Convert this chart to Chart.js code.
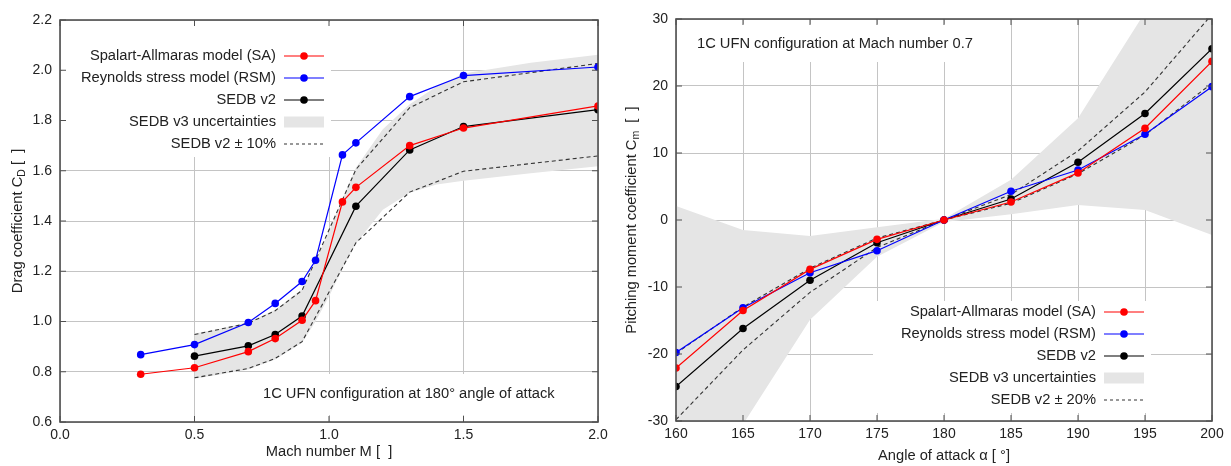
<!DOCTYPE html>
<html>
<head>
<meta charset="utf-8">
<script src="https://cdn.jsdelivr.net/npm/chart.js@4.4.1/dist/chart.umd.min.js"></script>
<style>
  html, body { margin: 0; padding: 0; background: #fff; }
  #wrap { display: flex; width: 1231px; height: 466px; }
  .cell { position: relative; height: 466px; }
</style>
</head>
<body>
<div id="wrap">
  <div class="cell" style="width:615px"><canvas id="cd-chart"></canvas></div>
  <div class="cell" style="width:616px"><canvas id="cm-chart"></canvas></div>
</div>
<script>
// ---- drag coefficient vs Mach (left) ----
const machModels = [0.3, 0.5, 0.7, 0.8, 0.9, 0.95, 1.05, 1.1, 1.3, 1.5, 2.0];
const cdSA   = [0.790, 0.816, 0.880, 0.932, 1.005, 1.083, 1.476, 1.534, 1.700, 1.770, 1.858];
const cdRSM  = [0.868, 0.908, 0.996, 1.072, 1.159, 1.244, 1.663, 1.711, 1.895, 1.979, 2.013];
const machV2 = [0.5, 0.7, 0.8, 0.9, 1.1, 1.3, 1.5, 2.0];
const cdV2      = [0.862, 0.903, 0.948, 1.022, 1.459, 1.683, 1.776, 1.843];
const cdV2Plus  = [0.948, 0.993, 1.043, 1.124, 1.605, 1.851, 1.954, 2.027];
const cdV2Minus = [0.776, 0.813, 0.853, 0.920, 1.313, 1.515, 1.598, 1.659];
const machV3  = [0.5, 0.6, 0.7, 0.8, 0.9, 0.95, 1.0, 1.05, 1.1, 1.2, 1.3, 1.4, 1.5, 1.75, 2.0];
const cdV3Hi  = [0.952, 0.972, 0.997, 1.047, 1.128, 1.24, 1.36, 1.49, 1.612, 1.765, 1.865, 1.935, 1.987, 2.03, 2.062];
const cdV3Lo  = [0.772, 0.790, 0.809, 0.849, 0.915, 1.00, 1.10, 1.21, 1.310, 1.445, 1.512, 1.545, 1.560, 1.59, 1.618];
const legendCD = ['Spalart-Allmaras model (SA)', 'Reynolds stress model (RSM)', 'SEDB v2', 'SEDB v3 uncertainties', 'SEDB v2 \u00b1 10%'];
const noteCD = '1C UFN configuration at 180\u00b0 angle of attack';

// ---- pitching moment vs angle of attack (right) ----
const alpha = [160, 165, 170, 175, 180, 185, 190, 195, 200];
const cmSA      = [-22.1, -13.5, -7.37, -2.89, 0, 2.69, 7.03, 13.7, 23.67];
const cmRSM     = [-19.78, -13.1, -7.87, -4.58, 0, 4.29, 7.47, 12.8, 19.9];
const cmV2      = [-24.86, -16.2, -9.0, -3.39, 0, 3.14, 8.62, 15.9, 25.56];
const cmV2Minus = [-19.9, -13.0, -7.2, -2.7, 0, 2.5, 6.9, 12.7, 20.4];
const cmV2Plus  = [-29.8, -19.4, -10.8, -4.1, 0, 3.8, 10.3, 19.1, 30.7];
const cmV3Hi    = [2.1, -1.5, -2.4, -1.1, 0.2, 6.0, 15.2, 31, 45];
const cmV3Lo    = [-45, -30.5, -14.9, -5.5, -0.3, 0.85, 2.24, 1.5, -2.24];
const legendCM = ['Spalart-Allmaras model (SA)', 'Reynolds stress model (RSM)', 'SEDB v2', 'SEDB v3 uncertainties', 'SEDB v2 \u00b1 20%'];
const noteCM = '1C UFN configuration at Mach number 0.7';

const FONT = '"Liberation Sans", Arial, sans-serif';
const TXT = '#222';
const BAND = '#e5e5e5';
const FRAME = '#505050';
const LBL = '14.7px ' + FONT;

const pts = (xs, ys) => xs.map((x, i) => ({ x, y: ys[i] }));

function modelSet(data, color) {
  return {
    data, borderColor: color, backgroundColor: color, borderWidth: 1.2,
    pointRadius: 3.8, pointBorderWidth: 0, pointBackgroundColor: color, tension: 0
  };
}
function dashedSet(data) {
  return { data, borderColor: '#333', borderWidth: 1.1, borderDash: [4, 3], pointRadius: 0, tension: 0 };
}
function bandSets(lo, hi) {
  return [
    { data: lo, borderWidth: 0, pointRadius: 0, fill: false },
    { data: hi, borderWidth: 0, pointRadius: 0, fill: '-1', backgroundColor: BAND }
  ];
}

// legend + annotation drawn inside the plot, with a white box behind
function overlay(cfg) {
  return {
    id: 'overlay',
    afterDatasetsDraw(chart) {
      const ctx = chart.ctx;
      ctx.save();
      ctx.fillStyle = '#fff';
      const b = cfg.legendBox, n = cfg.noteBox;
      ctx.fillRect(b[0], b[1], b[2] - b[0], b[3] - b[1]);
      ctx.fillRect(n[0], n[1], n[2] - n[0], n[3] - n[1]);

      ctx.font = LBL;
      ctx.fillStyle = TXT;
      ctx.textBaseline = 'middle';
      ctx.textAlign = 'left';
      ctx.fillText(cfg.note, cfg.noteX, cfg.noteY);

      const colors = ['#ff0000', '#0000ff', '#000000'];
      cfg.labels.forEach((lab, i) => {
        const y = cfg.y0 + i * cfg.step;
        ctx.textAlign = 'right';
        ctx.fillStyle = TXT;
        ctx.fillText(lab, cfg.textRight, y);
        const x1 = cfg.textRight + 8, x2 = x1 + 40;
        if (i < 3) {
          ctx.strokeStyle = colors[i]; ctx.lineWidth = 1.2; ctx.setLineDash([]);
          ctx.beginPath(); ctx.moveTo(x1, y); ctx.lineTo(x2, y); ctx.stroke();
          ctx.fillStyle = colors[i];
          ctx.beginPath(); ctx.arc((x1 + x2) / 2, y, 3.8, 0, Math.PI * 2); ctx.fill();
        } else if (i === 3) {
          ctx.fillStyle = BAND; ctx.fillRect(x1, y - 5.5, 40, 11);
        } else {
          ctx.strokeStyle = '#333'; ctx.lineWidth = 1.1; ctx.setLineDash([3, 3]);
          ctx.beginPath(); ctx.moveTo(x1, y); ctx.lineTo(x2, y); ctx.stroke();
          ctx.setLineDash([]);
        }
      });
      ctx.restore();
    },
    afterDraw(chart) {
      const ctx = chart.ctx, a = chart.chartArea;
      const sx = chart.scales.x, sy = chart.scales.y;
      ctx.save();
      ctx.strokeStyle = FRAME; ctx.lineWidth = 1.6;
      ctx.strokeRect(a.left, a.top, a.right - a.left, a.bottom - a.top);
      ctx.lineWidth = 1;
      ctx.beginPath();
      sx.ticks.forEach(t => {
        const x = sx.getPixelForValue(t.value);
        ctx.moveTo(x, a.bottom); ctx.lineTo(x, a.bottom - 6);
        ctx.moveTo(x, a.top); ctx.lineTo(x, a.top + 6);
      });
      sy.ticks.forEach(t => {
        const y = sy.getPixelForValue(t.value);
        ctx.moveTo(a.left, y); ctx.lineTo(a.left + 6, y);
        ctx.moveTo(a.right, y); ctx.lineTo(a.right - 6, y);
      });
      ctx.stroke();

      // axis titles
      ctx.fillStyle = TXT;
      ctx.textBaseline = 'middle';
      ctx.textAlign = 'center';
      ctx.font = LBL;
      ctx.fillText(cfg.xTitle, (a.left + a.right) / 2, cfg.xTitleY);

      ctx.translate(cfg.yTitleX, (a.top + a.bottom) / 2);
      ctx.rotate(-Math.PI / 2);
      const main = cfg.yTitle[0], sub = cfg.yTitle[1], tail = cfg.yTitle[2];
      const w1 = ctx.measureText(main).width, w3 = ctx.measureText(tail).width;
      ctx.font = '10.5px ' + FONT;
      const w2 = ctx.measureText(sub).width;
      let x = -(w1 + w2 + w3) / 2;
      ctx.textAlign = 'left';
      ctx.font = LBL;
      ctx.fillText(main, x, 0);
      ctx.font = '10.5px ' + FONT;
      ctx.fillText(sub, x + w1, 4);
      ctx.font = LBL;
      ctx.fillText(tail, x + w1 + w2, 0);
      ctx.restore();
    }
  };
}

function axes(xmin, xmax, xstep, ymin, ymax, ystep, yw, xh, fmtX, fmtY) {
  const grid = { color: '#c4c4c4', lineWidth: 1, drawTicks: false };
  const tick = { color: TXT, font: { family: FONT, size: 14 } };
  return {
    x: {
      type: 'linear', min: xmin, max: xmax, grid, border: { display: false },
      ticks: { ...tick, stepSize: xstep, padding: 5, maxRotation: 0, callback: fmtX },
      afterFit: s => { s.height = xh; }
    },
    y: {
      type: 'linear', min: ymin, max: ymax, grid, border: { display: false },
      ticks: { ...tick, stepSize: ystep, padding: 8, callback: fmtY },
      afterFit: s => { s.width = yw; }
    }
  };
}

const common = {
  responsive: true, maintainAspectRatio: false, animation: false,
  plugins: { legend: { display: false }, tooltip: { enabled: false } }
};

new Chart(document.getElementById('cd-chart'), {
  type: 'line',
  data: {
    datasets: [
      modelSet(pts(machModels, cdSA), '#ff0000'),
      modelSet(pts(machModels, cdRSM), '#0000ff'),
      modelSet(pts(machV2, cdV2), '#000000'),
      dashedSet(pts(machV2, cdV2Plus)),
      dashedSet(pts(machV2, cdV2Minus)),
      ...bandSets(pts(machV3, cdV3Lo), pts(machV3, cdV3Hi))
    ]
  },
  options: {
    ...common,
    layout: { padding: { left: 0, right: 17, top: 20, bottom: 0 } },
    scales: axes(0, 2, 0.5, 0.6, 2.2, 0.2, 60, 44, v => v.toFixed(1), v => v.toFixed(1))
  },
  plugins: [overlay({
    labels: legendCD, textRight: 276, y0: 56, step: 22,
    legendBox: [62, 22, 331, 157],
    note: noteCD, noteX: 263, noteY: 394, noteBox: [255, 374, 566, 415],
    xTitle: 'Mach number M [  ]', xTitleY: 452,
    yTitle: ['Drag coefficient C', 'D', ' [  ]'], yTitleX: 18
  })]
});

new Chart(document.getElementById('cm-chart'), {
  type: 'line',
  data: {
    datasets: [
      modelSet(pts(alpha, cmSA), '#ff0000'),
      modelSet(pts(alpha, cmRSM), '#0000ff'),
      modelSet(pts(alpha, cmV2), '#000000'),
      dashedSet(pts(alpha, cmV2Minus)),
      dashedSet(pts(alpha, cmV2Plus)),
      ...bandSets(pts(alpha, cmV3Lo), pts(alpha, cmV3Hi))
    ]
  },
  options: {
    ...common,
    layout: { padding: { left: 0, right: 19, top: 19, bottom: 0 } },
    scales: axes(160, 200, 5, -30, 30, 10, 61, 45, v => String(v), v => String(v))
  },
  plugins: [overlay({
    labels: legendCM, textRight: 481, y0: 312, step: 22,
    legendBox: [258, 301, 536, 413],
    note: noteCM, noteX: 82, noteY: 44, noteBox: [67, 24, 372, 62],
    xTitle: 'Angle of attack \u03b1 [ \u00b0]', xTitleY: 456,
    yTitle: ['Pitching moment coefficient C', 'm', '  [  ]'], yTitleX: 17
  })]
});
</script>
</body>
</html>
